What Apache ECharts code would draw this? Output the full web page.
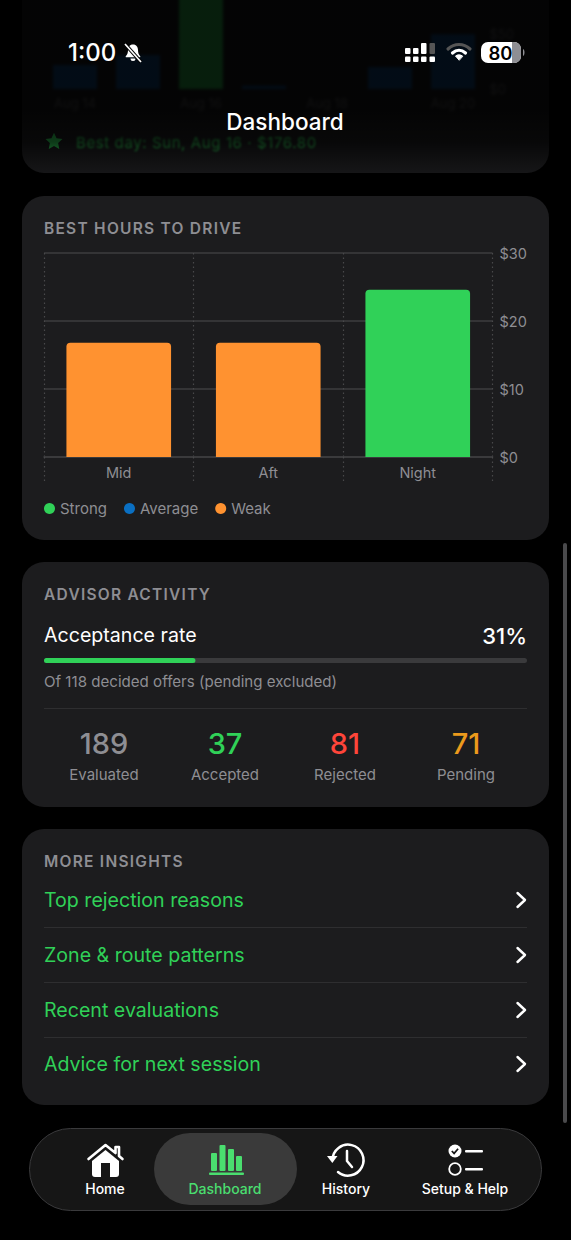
<!DOCTYPE html>
<html>
<head>
<meta charset="utf-8">
<title>Dashboard</title>
<script src="https://cdn.jsdelivr.net/npm/echarts@6/dist/echarts.min.js"></script>
<style>
html, body { margin: 0; padding: 0; background: #000; }
body { width: 571px; height: 1240px; position: relative; overflow: hidden; font-family: Inter, "Noto Sans", sans-serif; }
.card { position: absolute; left: 22px; width: 527px; background: #1c1c1e; border-radius: 22px; }
.t { position: absolute; white-space: nowrap; line-height: 1; transform: translateY(-50%); }
.c { transform: translate(-50%, -50%); }
.r { transform: translate(-100%, -50%); }
.head { left: 44px; font-size: 15.5px; font-weight: 600; letter-spacing: 1.25px; color: #8e8e93; }
.line { position: absolute; left: 44px; width: 483px; height: 1px; background: #2e2e30; }
#fade { position: absolute; left: 0; top: 0; width: 571px; height: 174px; background: linear-gradient(to bottom, rgba(0,0,0,.86) 0, rgba(0,0,0,.86) 110px, rgba(0,0,0,.72) 142px, rgba(0,0,0,.2) 174px); }
#topChart { position: absolute; left: 22px; top: -130px; width: 527px; height: 250px; filter: blur(1.4px); }
svg { position: absolute; overflow: visible; }
</style>
</head>
<body>

<!-- card scrolled under the header -->
<div class="card" style="top:-200px;height:373px"></div>
<div id="topChart"></div>
<svg style="left:45px;top:132px" width="18" height="18" viewBox="0 0 24 24"><path fill="#30d158" d="M12 1l3.4 7.3 7.9 1-5.8 5.4 1.5 7.9L12 18.7l-7 3.9 1.5-7.9L.7 9.3l7.9-1z"/></svg>
<div class="t" style="left:76px;top:141.500px;font-size:15px;letter-spacing:.6px;color:#30d158;filter:blur(.8px)">Best day: Sun, Aug 16 · $176.80</div>
<div id="fade"></div>

<!-- status bar -->
<div class="t" style="left:68px;top:53px;font-size:24px;font-weight:500;color:#fff">1:00</div>
<svg style="left:123px;top:43px" width="20" height="20" viewBox="0 0 20 20"><path fill="#fff" d="M10 1.5c-3.4 0-5 2.6-5 5.6 0 3.2-.8 4.700-2.200 6.100-.4.500-.1 1.100.5 1.100h13.400c.6 0 .9-.6.500-1.100C15.800 11.800 15 10.300 15 7.100c0-3-1.600-5.600-5-5.600zM7.500 15.600a2.500 2.500 0 0 0 5 0z"/><path stroke="#000" stroke-width="3.400" d="M2 1l16 18"/><path stroke="#fff" stroke-width="1.700" d="M2 1l16 18"/></svg>
<svg style="left:405px;top:43px" width="30" height="20" viewBox="0 0 30 20"><g fill="#fff"><rect x="0" y="5" width="5.500" height="6" rx="1"/><rect x="0" y="13.500" width="5.500" height="5.500" rx="1"/><rect x="8" y="5" width="5.500" height="6" rx="1"/><rect x="8" y="13.500" width="5.500" height="5.500" rx="1"/><rect x="16" y="0" width="5.500" height="11" rx="1"/><rect x="16" y="13.500" width="5.500" height="5.500" rx="1"/><rect x="24.500" y="13.500" width="5.500" height="5.500" rx="1"/></g><rect x="24.500" y="0" width="5.500" height="11" rx="1" fill="#555"/></svg>
<svg style="left:446px;top:42px" width="26" height="20" viewBox="0 0 26 20" fill="none" stroke-linecap="round"><path d="M2 7c6.500-6 15.500-6 22 0" stroke="#555" stroke-width="3.200"/><path d="M6.500 11c4-3.600 9-3.600 13 0" stroke="#fff" stroke-width="3.200"/><path d="M13 18l-3.500-4c2-1.600 5-1.600 7 0z" fill="#fff" stroke="#fff" stroke-width="1"/></svg>
<svg style="left:481px;top:42px" width="44" height="21" viewBox="0 0 44 21"><rect x="0" y="0" width="40" height="21" rx="7" fill="#fff"/><path d="M31 0h2a7 7 0 0 1 7 7v7a7 7 0 0 1-7 7h-2z" fill="#8e8e93"/><path d="M42 7c2 .5 2 6.500 0 7z" fill="#8e8e93"/></svg>
<div class="t c" style="left:500.500px;top:53px;font-size:18.500px;font-weight:600;color:#000">80</div>
<div class="t c" style="left:285px;top:122.300px;font-size:22.500px;font-weight:500;color:#fff">Dashboard</div>

<!-- best hours -->
<div class="card" style="top:196px;height:344px"></div>
<div class="t head" style="top:228.500px">BEST HOURS TO DRIVE</div>
<div id="hoursChart" style="position:absolute;left:22px;top:240px;width:527px;height:290px"></div>

<!-- advisor activity -->
<div class="card" style="top:562px;height:245px"></div>
<div class="t head" style="top:595px">ADVISOR ACTIVITY</div>
<div class="t" style="left:44px;top:636px;font-size:19.600px;color:#fff">Acceptance rate</div>
<div class="t r" id="ratePct" style="left:527px;top:636px;font-size:22px;font-weight:500;color:#fff"></div>
<div id="rateChart" style="position:absolute;left:44px;top:656px;width:483px;height:9px"></div>
<div class="t" id="rateNote" style="left:44px;top:681.500px;font-size:15.100px;color:#8e8e93"></div>
<div class="line" style="top:708px"></div>
<div id="stats"></div>

<!-- more insights -->
<div class="card" style="top:829px;height:276px"></div>
<div class="t head" style="top:862px">MORE INSIGHTS</div>
<div id="insights"></div>

<!-- scroll indicator -->
<div style="position:absolute;left:563px;top:543px;width:4px;height:580px;border-radius:2px;background:#4a4a4c"></div>

<!-- tab bar -->
<div style="position:absolute;left:29px;top:1128px;width:511px;height:81px;border:1px solid #3a3a3c;border-radius:42px;background:#161616"></div>
<div style="position:absolute;left:154px;top:1133px;width:143px;height:72px;border-radius:36px;background:#3a3a3a"></div>
<svg style="left:87px;top:1143px" width="37" height="34" viewBox="0 0 37 34"><path d="M1.500 16L18.500 2l10 8V4h3.500v9l3.500 3" fill="none" stroke="#fff" stroke-width="2.600" stroke-linecap="round" stroke-linejoin="round"/><path fill="#fff" d="M18.500 7L5 18v13a3 3 0 0 0 3 3h21a3 3 0 0 0 3-3V18z"/><rect x="14" y="20" width="9" height="14" fill="#161616"/></svg>
<svg style="left:209px;top:1145px" width="35" height="30" viewBox="0 0 35 30"><g fill="#4ade6f"><rect x="2" y="8" width="6" height="18" rx="1"/><rect x="10.500" y="0" width="6" height="26" rx="1"/><rect x="19" y="4" width="6" height="22" rx="1"/><rect x="27" y="11" width="6" height="15" rx="1"/><rect x="0" y="27.500" width="35" height="2.500" rx="1"/></g></svg>
<svg style="left:327px;top:1143px" width="36" height="34" viewBox="0 0 36 34" fill="none" stroke="#fff" stroke-width="2.500" stroke-linecap="round" stroke-linejoin="round"><path d="M5.500 17A15.500 15.500 0 1 1 11 29"/><path d="M20 8v10l5 6"/><path d="M0 13h10.500l-5.200 7z" fill="#fff" stroke="none"/></svg>
<svg style="left:448px;top:1144px" width="36" height="32" viewBox="0 0 36 32"><circle cx="7" cy="7" r="6.500" fill="#fff"/><path d="M3.800 7l2.300 2.400 4-4.600" fill="none" stroke="#161616" stroke-width="1.700"/><circle cx="7" cy="25" r="5.800" fill="none" stroke="#fff" stroke-width="1.800"/><rect x="17" y="6" width="18" height="2.400" rx="1" fill="#fff"/><rect x="17" y="24" width="18" height="2.400" rx="1" fill="#fff"/></svg>
<div id="tabs"></div>

<script>
// blurred chart behind the header
var dayLabels = ["Aug 14", "Aug 15", "Aug 16", "Aug 17", "Aug 18", "Aug 19", "Aug 20"];
var dayEarnings = [22, 31, 176.8, 3, 0, 20, 50];
var dayTicks = ["$0", "$50"];
var bestDayIndex = 2;

// best hours card
var hourBuckets = ["Mid", "Aft", "Night"];
var hourStrong = [null, null, 24.6];
var hourAverage = [null, null, null];
var hourWeak = [16.8, 16.8, null];
var hourTicks = ["$0", "$10", "$20", "$30"];

// advisor activity
var statLabels = ["Evaluated", "Accepted", "Rejected", "Pending"];
var statValues = [189, 37, 81, 71];
var statColors = ["#8e8e93", "#30d158", "#ff453a", "#ec9a1c"];
var statCenters = [104, 225, 345, 466];

var insightRows = ["Top rejection reasons", "Zone & route patterns", "Recent evaluations", "Advice for next session"];
var tabLabels = ["Home", "Dashboard", "History", "Setup & Help"];

var GREEN = "#30d158", BLUE = "#0a6fc2", ORANGE = "#ff9230", GRAY = "#8e8e93";
var FONT = 'Inter, "Noto Sans", sans-serif';

var topChart = echarts.init(document.getElementById("topChart"), null, {renderer: "svg"});
topChart.setOption({
	animation: false,
	grid: {left: 21.5, right: 64.5, top: 0, bottom: 31},
	xAxis: {
		type: "category",
		data: dayLabels,
		axisLine: {show: false},
		axisTick: {show: false},
		axisLabel: {color: "#6e6e73", fontSize: 13, margin: 7, interval: 1, fontFamily: FONT}
	},
	yAxis: {
		type: "value",
		min: 0,
		max: 200,
		interval: 50,
		position: "right",
		axisLine: {show: false},
		axisTick: {show: false},
		splitLine: {show: false},
		// the higher ticks sit above the top of the screen
		axisLabel: {
			color: "#6e6e73",
			fontSize: 13,
			margin: 5,
			fontFamily: FONT,
			formatter: function(v) { return dayTicks[v / 50] || ""; }
		}
	},
	series: [{
		type: "bar",
		barWidth: 44,
		data: dayEarnings.map(function(v, i) {
			return {value: v, itemStyle: {color: i == bestDayIndex ? GREEN : "#0a84ff", opacity: i == bestDayIndex ? 1 : 0.55}};
		})
	}]
});

var hoursChart = echarts.init(document.getElementById("hoursChart"), null, {renderer: "svg"});
function hourSeries(name, color, values) {
	return {
		name: name,
		type: "bar",
		stack: "hours",
		barWidth: "70%",
		itemStyle: {color: color, borderRadius: [4, 4, 0, 0]},
		data: values
	};
}
hoursChart.setOption({
	animation: false,
	grid: {left: 22, right: 56.5, top: 13, bottom: 73},
	legend: {
		left: 17,
		top: 256,
		icon: "circle",
		itemWidth: 11,
		itemHeight: 11,
		itemGap: 17,
		textStyle: {color: GRAY, fontSize: 15, fontFamily: FONT},
		data: ["Strong", "Average", "Weak"]
	},
	xAxis: {
		type: "category",
		data: hourBuckets,
		axisLine: {lineStyle: {color: "#3d3d3f", width: 1.5}},
		axisTick: {show: true, length: 25, lineStyle: {color: "#48484a", width: 1.2, type: [1.5, 3]}},
		axisLabel: {color: GRAY, fontSize: 14.5, margin: 8, fontFamily: FONT},
		splitLine: {show: true, lineStyle: {color: "#48484a", width: 1.2, type: [1.5, 3]}}
	},
	yAxis: {
		type: "value",
		position: "right",
		min: 0,
		max: 30,
		interval: 10,
		axisLine: {show: false},
		axisTick: {show: false},
		axisLabel: {
			color: GRAY,
			fontSize: 14.5,
			margin: 7,
			fontFamily: FONT,
			formatter: function(v) { return hourTicks[v / 10]; }
		},
		splitLine: {lineStyle: {color: "#3d3d3f", width: 1.5}}
	},
	series: [
		hourSeries("Strong", GREEN, hourStrong),
		hourSeries("Average", BLUE, hourAverage),
		hourSeries("Weak", ORANGE, hourWeak)
	]
});

// acceptance rate bar, decided offers = accepted + rejected
var accepted = statValues[1];
var decided = statValues[1] + statValues[2];
document.getElementById("ratePct").textContent = Math.round(accepted / decided * 100) + "%";
document.getElementById("rateNote").textContent = "Of " + decided + " decided offers (pending excluded)";

var rateChart = echarts.init(document.getElementById("rateChart"), null, {renderer: "svg"});
rateChart.setOption({
	animation: false,
	grid: {left: 0, right: 0, top: 0, bottom: 0},
	xAxis: {type: "value", min: 0, max: decided, show: false},
	yAxis: {type: "category", data: ["Acceptance rate"], show: false},
	series: [{
		type: "bar",
		barWidth: 5,
		data: [accepted],
		itemStyle: {color: GREEN, borderRadius: 3},
		showBackground: true,
		backgroundStyle: {color: "#3a3a3c", borderRadius: 3}
	}]
});

var html = "";
for (var i = 0; i < statLabels.length; i++) {
	html += '<div class="t c" style="left:' + statCenters[i] + 'px;top:743px;font-size:29px;font-weight:500;color:' + statColors[i] + '">' + statValues[i] + '</div>';
	html += '<div class="t c" style="left:' + statCenters[i] + 'px;top:774px;font-size:15px;color:' + GRAY + '">' + statLabels[i] + '</div>';
}
document.getElementById("stats").innerHTML = html;

var rowCenters = [900, 955, 1010, 1064];
html = "";
for (var i = 0; i < insightRows.length; i++) {
	html += '<div class="t" style="left:44px;top:' + (rowCenters[i] + 1) + 'px;font-size:19.6px;color:' + GREEN + '">' + insightRows[i].replace("&", "&amp;") + '</div>';
	html += '<svg style="left:515px;top:' + (rowCenters[i] - 9) + 'px" width="12" height="18" viewBox="0 0 12 18"><path d="M2.500 2l7.500 7-7.500 7" fill="none" stroke="#fff" stroke-width="2.400" stroke-linecap="round" stroke-linejoin="round"/></svg>';
	if (i < 3) html += '<div class="line" style="top:' + (rowCenters[i] + 27) + 'px"></div>';
}
document.getElementById("insights").innerHTML = html;

var tabCenters = [105, 225, 346, 465];
html = "";
for (var i = 0; i < tabLabels.length; i++) {
	html += '<div class="t c" style="left:' + tabCenters[i] + 'px;top:1189px;font-size:14px;font-weight:500;color:' + (i == 1 ? "#4ade6f" : "#fff") + '">' + tabLabels[i].replace("&", "&amp;") + '</div>';
}
document.getElementById("tabs").innerHTML = html;
</script>
</body>
</html>
